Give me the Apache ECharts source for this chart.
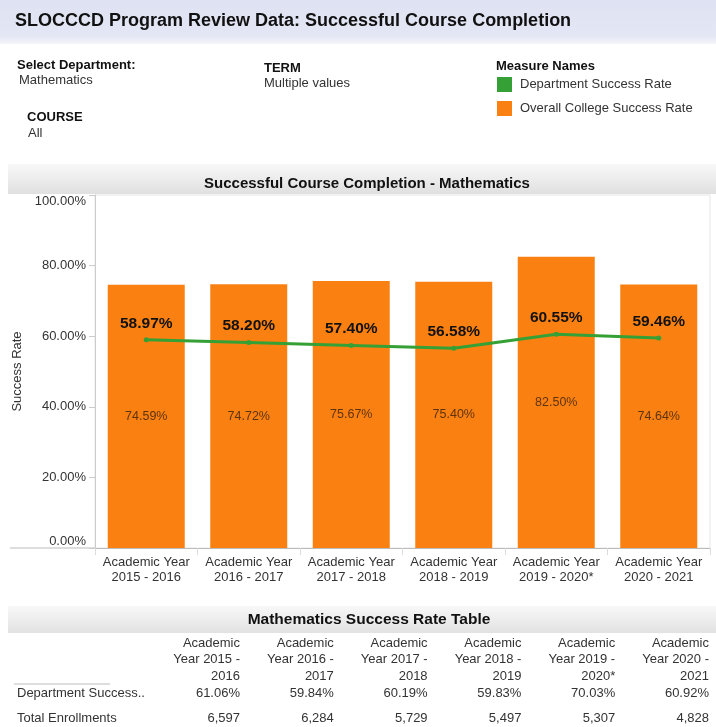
<!DOCTYPE html>
<html lang="en">
<head>
    <meta charset="UTF-8">
    <title>SLOCCCD Program Review Data</title>
    <script src="https://cdn.jsdelivr.net/npm/echarts@6/dist/echarts.min.js"></script>
    <style>
        html, body { margin: 0; padding: 0; background: #fff; }
    </style>
</head>
<body>
<div id="main" style="width: 716px;height:727px;"></div>
<script>
    var categories = ['Academic Year\n2015 - 2016', 'Academic Year\n2016 - 2017', 'Academic Year\n2017 - 2018',
        'Academic Year\n2018 - 2019', 'Academic Year\n2019 - 2020*', 'Academic Year\n2020 - 2021'];
    var deptRate = [58.97, 58.20, 57.40, 56.58, 60.55, 59.46];
    var collegeRate = [74.59, 74.72, 75.67, 75.40, 82.50, 74.64];
    var yTicks = [0, 20, 40, 60, 80, 100];

    var tableCols = ['Academic\nYear 2015 -\n2016', 'Academic\nYear 2016 -\n2017', 'Academic\nYear 2017 -\n2018',
        'Academic\nYear 2018 -\n2019', 'Academic\nYear 2019 -\n2020*', 'Academic\nYear 2020 -\n2021'];
    var tableDeptRate = [61.06, 59.84, 60.19, 59.83, 70.03, 60.92];
    var enrollments = [6597, 6284, 5729, 5497, 5307, 4828];

    var font = '"Liberation Sans", Arial, sans-serif';
    var myChart = echarts.init(document.getElementById('main'));

    var graphics = [
        {
            type: 'rect', shape: {x: 0, y: 0, width: 716, height: 44}, silent: true,
            style: {fill: {type: 'linear', x: 0, y: 0, x2: 0, y2: 1,
                colorStops: [{offset: 0, color: '#dfe2f2'}, {offset: 0.8, color: '#e3e6f4'}, {offset: 1, color: '#f4f5fb'}]}}
        },
        {type: 'text', style: {text: 'SLOCCCD Program Review Data: Successful Course Completion', x: 15, y: 21,
            verticalAlign: 'middle', font: 'bold 18px ' + font, fill: '#111'}},
        {type: 'text', style: {text: 'Select Department:', x: 17, y: 65, verticalAlign: 'middle', font: 'bold 13px ' + font, fill: '#111'}},
        {type: 'text', style: {text: 'Mathematics', x: 19, y: 80, verticalAlign: 'middle', font: '13px ' + font, fill: '#333'}},
        {type: 'text', style: {text: 'COURSE', x: 27, y: 117, verticalAlign: 'middle', font: 'bold 13px ' + font, fill: '#111'}},
        {type: 'text', style: {text: 'All', x: 28, y: 133, verticalAlign: 'middle', font: '13px ' + font, fill: '#333'}},
        {type: 'text', style: {text: 'TERM', x: 264, y: 68, verticalAlign: 'middle', font: 'bold 13px ' + font, fill: '#111'}},
        {type: 'text', style: {text: 'Multiple values', x: 264, y: 83, verticalAlign: 'middle', font: '13px ' + font, fill: '#333'}},
        {type: 'text', style: {text: 'Measure Names', x: 496, y: 66, verticalAlign: 'middle', font: 'bold 13px ' + font, fill: '#111'}},
        // chart title band
        {
            type: 'rect', shape: {x: 8, y: 164, width: 708, height: 30}, silent: true,
            style: {fill: {type: 'linear', x: 0, y: 0, x2: 0, y2: 1,
                colorStops: [{offset: 0, color: '#f8f8f8'}, {offset: 1, color: '#e0e0e0'}]}}
        },
        // table title band
        {
            type: 'rect', shape: {x: 8, y: 606, width: 708, height: 27}, silent: true,
            style: {fill: {type: 'linear', x: 0, y: 0, x2: 0, y2: 1,
                colorStops: [{offset: 0, color: '#f8f8f8'}, {offset: 1, color: '#e2e2e2'}]}}
        },
        {type: 'text', style: {text: 'Mathematics Success Rate Table', x: 369, y: 620, align: 'center',
            verticalAlign: 'middle', font: 'bold 15.5px ' + font, fill: '#111'}},
        // axis line extension to the left
        {type: 'line', shape: {x1: 10, y1: 548, x2: 95, y2: 548}, style: {stroke: '#bbb', lineWidth: 1}},
        {type: 'line', shape: {x1: 14, y1: 684, x2: 110, y2: 684}, style: {stroke: '#bbb', lineWidth: 1}},
        {type: 'text', style: {text: 'Department Success..', x: 17, y: 693, verticalAlign: 'middle', font: '13px ' + font, fill: '#333'}},
        {type: 'text', style: {text: 'Total Enrollments', x: 17, y: 718, verticalAlign: 'middle', font: '13px ' + font, fill: '#333'}}
    ];

    tableCols.forEach(function (c, i) {
        var xr = 240 + i * 93.8;
        graphics.push({type: 'text', style: {text: c, x: xr, y: 635, align: 'right', verticalAlign: 'top',
            lineHeight: 16.5, font: '13px ' + font, fill: '#333'}});
        graphics.push({type: 'text', style: {text: tableDeptRate[i].toFixed(2) + '%', x: xr, y: 693, align: 'right',
            verticalAlign: 'middle', font: '13px ' + font, fill: '#333'}});
        graphics.push({type: 'text', style: {text: enrollments[i].toLocaleString('en-US'), x: xr, y: 718, align: 'right',
            verticalAlign: 'middle', font: '13px ' + font, fill: '#333'}});
    });

    var option = {
        animation: false,
        textStyle: {fontFamily: font},
        title: {
            text: 'Successful Course Completion - Mathematics',
            left: 362, top: 171, textAlign: 'center',
            textStyle: {fontSize: 15, fontWeight: 'bold', color: '#111', fontFamily: font}
        },
        legend: {
            orient: 'vertical', left: 497, top: 77, itemWidth: 15, itemHeight: 15, itemGap: 9,
            icon: 'rect', padding: 0,
            textStyle: {fontSize: 13, color: '#333', fontFamily: font, padding: [0, 0, 0, 3]},
            data: ['Department Success Rate', 'Overall College Success Rate'],
            selectedMode: false
        },
        grid: {left: 95, right: 6, top: 195, bottom: 179, show: true, borderColor: '#e6e6e6', borderWidth: 1},
        xAxis: {
            type: 'category',
            data: categories,
            axisLine: {lineStyle: {color: '#bbb'}},
            axisTick: {show: true, length: 7, lineStyle: {color: '#ddd'}},
            axisLabel: {interval: 0, margin: 7, fontSize: 13, lineHeight: 15, color: '#333', fontFamily: font}
        },
        yAxis: {
            type: 'value', min: yTicks[0], max: yTicks[yTicks.length - 1], interval: 20,
            name: 'Success Rate', nameLocation: 'middle', nameGap: 69, nameRotate: 90,
            nameTextStyle: {fontSize: 13, color: '#333', fontFamily: font},
            axisLine: {show: true, lineStyle: {color: '#ccc'}},
            axisTick: {show: true, length: 6, lineStyle: {color: '#ccc'}},
            splitLine: {show: false},
            axisLabel: {
                margin: 9, fontSize: 13, color: '#333', fontFamily: font,
                verticalAlignMinLabel: 'bottom', verticalAlignMaxLabel: 'top',
                formatter: function (v) { return v.toFixed(2) + '%'; }
            }
        },
        series: [
            {
                name: 'Overall College Success Rate',
                type: 'bar',
                data: collegeRate,
                barWidth: 77,
                itemStyle: {color: '#fa8011'},
                label: {
                    show: true, position: 'inside', fontSize: 12.5, color: '#5e3310', fontFamily: font,
                    formatter: function (p) { return p.value.toFixed(2) + '%'; }
                },
                z: 2
            },
            {
                name: 'Department Success Rate',
                type: 'line',
                data: deptRate,
                symbol: 'circle', symbolSize: 5,
                lineStyle: {color: '#35a035', width: 3},
                itemStyle: {color: '#35a035'},
                label: {
                    show: true, position: 'top', distance: 6, fontSize: 15.5, fontWeight: 'bold', color: '#111', fontFamily: font,
                    formatter: function (p) { return p.value.toFixed(2) + '%'; }
                },
                z: 3
            }
        ],
        graphic: graphics
    };
    myChart.setOption(option);
</script>
</body>
</html>
